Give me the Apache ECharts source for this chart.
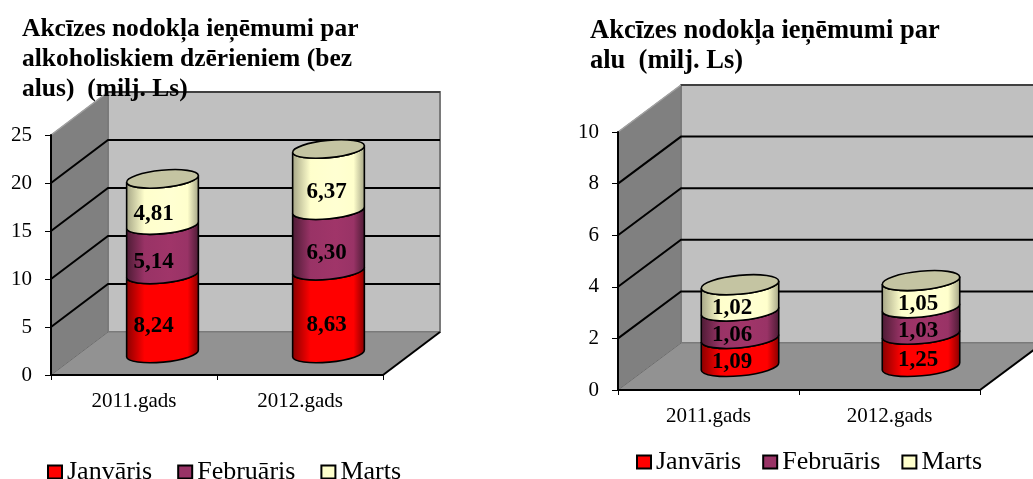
<!DOCTYPE html>
<html><head><meta charset="utf-8">
<style>html,body{margin:0;padding:0;background:#fff}#c{width:1033px;height:479px}</style>
<script src="https://cdn.jsdelivr.net/npm/echarts@6/dist/echarts.min.js"></script>
</head><body><div id="c"></div>
<script>
const categories = ['2011.gads', '2012.gads'];
const seriesNames = ['Janvāris', 'Februāris', 'Marts'];
const alcoholJan = [8.24, 8.63];
const alcoholFeb = [5.14, 6.30];
const alcoholMar = [4.81, 6.37];
const beerJan = [1.09, 1.25];
const beerFeb = [1.06, 1.03];
const beerMar = [1.02, 1.05];
const alcoholTicks = [0, 5, 10, 15, 20, 25];
const beerTicks = [0, 2, 4, 6, 8, 10];
const titleAlcohol = 'Akcīzes nodokļa ieņēmumi par\nalkoholiskiem dzērieniem (bez\nalus)  (milj. Ls)';
const titleBeer = 'Akcīzes nodokļa ieņēmumi par\nalu  (milj. Ls)';

const FONT = '"Liberation Serif","Times New Roman",serif';
const palette = [
  {main:'#ff0000', edge:'#8c0000', mid:'#ff0000'},
  {main:'#993366', edge:'#4f1c36', mid:'#a03569'},
  {main:'#ffffcc', edge:'#a8a888', mid:'#ffffd2'}
];
const TOP_FILL = '#c4c4a2';

function wallsItem(depthX, depthY, lastTick) {
  return function (params, api) {
    const cs = params.coordSys;
    const v = api.value(0);
    const y = api.coord([0, v])[1];
    const x0 = cs.x, x1 = cs.x + cs.width, yb = cs.y + cs.height, yt = cs.y;
    const children = [];
    if (v === 0) {
      children.push({type:'polygon', shape:{points:[[x0,yb],[x0,yt],[x0+depthX,yt-depthY],[x0+depthX,yb-depthY]]},
        style:{fill:'#808080', stroke:'#9a9a9a', lineWidth:1}});
      children.push({type:'rect', shape:{x:x0+depthX, y:yt-depthY, width:cs.width, height:cs.height},
        style:{fill:'#c0c0c0', stroke:'#7a7a7a', lineWidth:2}});
      children.push({type:'polygon', shape:{points:[[x0,yb],[x1,yb],[x1+depthX,yb-depthY],[x0+depthX,yb-depthY]]},
        style:{fill:'#929292'}});
      children.push({type:'line', shape:{x1:x0,y1:yb,x2:x0+depthX,y2:yb-depthY}, style:{stroke:'#6e6e6e', lineWidth:1}});
      children.push({type:'line', shape:{x1:x0+depthX,y1:yb-depthY,x2:x1+depthX,y2:yb-depthY}, style:{stroke:'#7a7a7a', lineWidth:1}});
      children.push({type:'line', shape:{x1:x1,y1:yb,x2:x1+depthX,y2:yb-depthY}, style:{stroke:'#000', lineWidth:2}});
    } else if (v === lastTick) {
      children.push({type:'line', shape:{x1:x0,y1:y,x2:x0+depthX,y2:y-depthY}, style:{stroke:'#a0a0a0', lineWidth:1.5}});
      children.push({type:'line', shape:{x1:x0+depthX,y1:y-depthY,x2:x1+depthX,y2:y-depthY}, style:{stroke:'#404040', lineWidth:2}});
    } else {
      children.push({type:'polyline', shape:{points:[[x0,y],[x0+depthX,y-depthY],[x1+depthX,y-depthY]]},
        style:{fill:'none', stroke:'#000', lineWidth:2}});
    }
    return {type:'group', children};
  };
}

function cylinderItem(cfg, idx, isTop) {
  return function (params, api) {
    const cat = api.value(0), from = api.value(1), to = api.value(2), val = api.value(3);
    const bw = api.size([1, 0])[0];
    const rx = bw * cfg.rxRatio, ry = rx * 0.24;
    const pb = api.coord([cat, from]), pt = api.coord([cat, to]);
    const cx = pb[0] + cfg.depthX / 2;
    const by = pb[1] - cfg.depthY / 2, ty = pt[1] - cfg.depthY / 2;
    const tilt = rx * Math.sin(cfg.rot * Math.PI / 180);
    const hx = rx * Math.cos(cfg.rot * Math.PI / 180);
    const lx = cx - hx, rxp = cx + hx;
    const R = rx + ' ' + ry + ' ' + (-cfg.rot);
    const d = 'M' + lx + ' ' + (by + tilt) + ' A' + R + ' 0 0 ' + rxp + ' ' + (by - tilt) +
      ' L' + rxp + ' ' + (ty - tilt) + ' A' + R + ' 0 1 ' + lx + ' ' + (ty + tilt) + ' Z';
    const c = palette[idx];
    const children = [{
      type:'path', shape:{pathData:d},
      style:{stroke:'#000', lineWidth:1.6, fill:{type:'linear', x:lx, y:0, x2:rxp, y2:0, global:true, colorStops:[
        {offset:0, color:c.edge},{offset:0.25, color:c.main},{offset:0.6, color:c.mid},{offset:0.85, color:c.main},{offset:1, color:c.edge}]}}
    }];
    if (isTop) {
      children.push({type:'ellipse', shape:{cx:0, cy:0, rx:rx, ry:ry}, x:cx, y:ty, rotation:cfg.rot*Math.PI/180,
        style:{fill:TOP_FILL, stroke:'#000', lineWidth:1.6}});
    }
    children.push({type:'text', z2:50, x:cx + cfg.labelShift[cat], y:(by + ty) / 2 + cfg.labelDrop,
      style:{text:val.toFixed(2).replace('.', ','), font:'bold 23px ' + FONT, fill:'#000', align:'center', verticalAlign:'middle'}});
    return {type:'group', children};
  };
}

function stackedData(cols) {
  const rows = [[], [], []];
  categories.forEach((_, i) => {
    let base = 0;
    cols.forEach((col, s) => { rows[s].push([i, base, base + col[i], col[i]]); base += col[i]; });
  });
  return rows;
}

const charts = [
  {cols:[alcoholJan, alcoholFeb, alcoholMar], ticks:alcoholTicks, title:titleAlcohol, titlePos:[22,14], titleSize:25.5,
   grid:{left:51, top:135, width:332, height:240}, depthX:57, depthY:43, rxRatio:0.217, rot:5.5,
   labelShift:[-9,-2], labelDrop:12.5, legendPos:[47,459], legendGap:25},
  {cols:[beerJan, beerFeb, beerMar], ticks:beerTicks, title:titleBeer, titlePos:[590,16], titleSize:26.5,
   grid:{left:618, top:132, width:362, height:258}, depthX:63, depthY:47, rxRatio:0.215, rot:5.5,
   labelShift:[-8,-3], labelDrop:10, legendPos:[636,449], legendGap:21}
];

const option = {animation:false, backgroundColor:'#fff', title:[], grid:[], xAxis:[], yAxis:[], legend:[], series:[]};
charts.forEach((cfg, g) => {
  option.title.push({text:cfg.title, left:cfg.titlePos[0], top:cfg.titlePos[1], z:20, padding:0,
    textStyle:{fontFamily:FONT, fontWeight:'bold', fontSize:cfg.titleSize, lineHeight:30, color:'#000'}});
  option.grid.push(cfg.grid);
  option.xAxis.push({type:'category', gridIndex:g, data:categories, z:5,
    axisLine:{lineStyle:{color:'#000', width:2}}, axisTick:{show:true, length:5, lineStyle:{color:'#000', width:1}},
    axisLabel:{fontFamily:FONT, fontSize:21, color:'#000', margin:16}, splitLine:{show:false}});
  const top = cfg.ticks[cfg.ticks.length - 1];
  option.yAxis.push({type:'value', gridIndex:g, min:0, max:top, interval:cfg.ticks[1], z:5,
    axisLine:{show:true, lineStyle:{color:'#000', width:2}}, axisTick:{show:true, length:6, lineStyle:{color:'#000', width:1}},
    axisLabel:{fontFamily:FONT, fontSize:21, color:'#000', margin:19}, splitLine:{show:false}});
  option.legend.push({left:cfg.legendPos[0], top:cfg.legendPos[1], data:seriesNames, orient:'horizontal',
    itemWidth:14, itemHeight:13, itemGap:cfg.legendGap, padding:0, icon:'rect', selectedMode:false,
    itemStyle:{borderColor:'#000', borderWidth:2},
    textStyle:{fontFamily:FONT, fontSize:26, color:'#000'}});
  option.series.push({type:'custom', name:'walls' + g, xAxisIndex:g, yAxisIndex:g, z:1, silent:true,
    data:cfg.ticks.map(t => [t]), encode:{y:0}, renderItem:wallsItem(cfg.depthX, cfg.depthY, top)});
  const rows = stackedData(cfg.cols);
  rows.forEach((row, s) => {
    option.series.push({type:'custom', name:seriesNames[s], xAxisIndex:g, yAxisIndex:g, z:3 + s,
      itemStyle:{color:palette[s].main}, data:row, encode:{x:0, y:[1,2]},
      renderItem:cylinderItem(cfg, s, s === rows.length - 1)});
  });
});
echarts.init(document.getElementById('c'), null, {renderer:'canvas'}).setOption(option);
</script></body></html>
